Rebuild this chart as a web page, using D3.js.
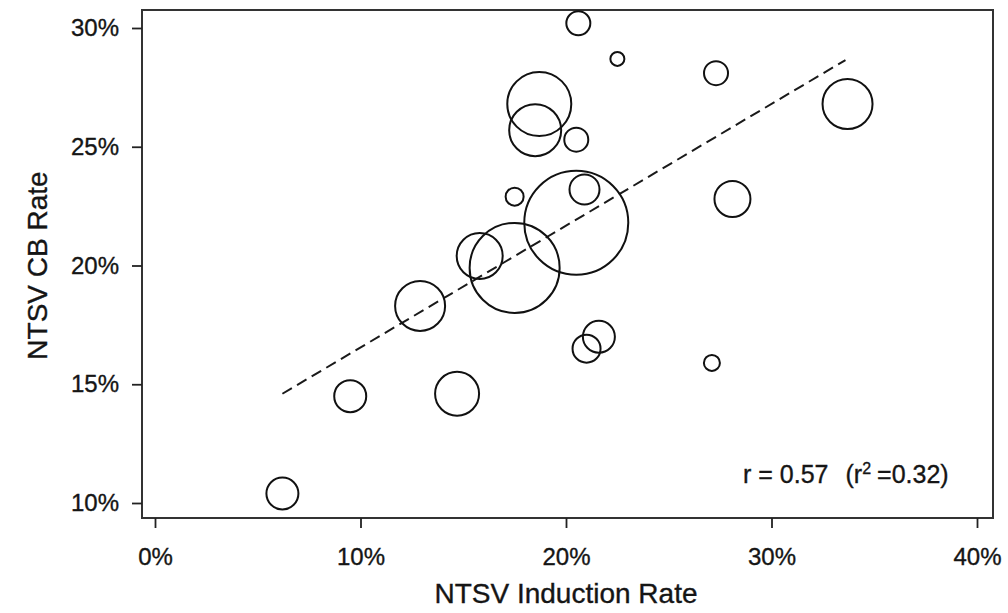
<!DOCTYPE html>
<html>
<head>
<meta charset="utf-8">
<script src="https://cdn.jsdelivr.net/npm/d3@7"></script>
<style>
  body { margin: 0; background: #fff; }
  text { font-family: "Liberation Sans", Arial, sans-serif; fill: #151515; stroke: #151515; stroke-width: 0.35px; }
</style>
</head>
<body>
<div id="chart"></div>
<script>
// values
const inductionRate = [6.2, 9.5, 14.7, 12.9, 15.8, 17.5, 20.5, 17.5, 20.9, 28.1, 33.7, 27.3, 20.6, 22.5, 18.7, 18.5, 20.5, 21.0, 21.6, 27.1]
const cbRate        = [10.4, 14.5, 14.6, 18.3, 20.4, 19.9, 21.8, 22.9, 23.2, 22.8, 26.8, 28.1, 30.2, 28.7, 26.8, 25.7, 25.3, 16.5, 17.0, 15.9]
const hospitalSize  = [256, 256, 484, 625, 529, 2025, 2704, 81, 225, 324, 625, 144, 144, 49, 1024, 676, 144, 196, 256, 64]

const xTicks = [0, 10, 20, 30, 40]
const yTicks = [10, 15, 20, 25, 30]

// fitted line end points
const trendX = [6.2, 33.6]
const trendY = [14.6, 28.65]

const statLabel = { r: '0.57', r2: '0.32' }

const width = 1008
const height = 613
const margin = { top: 28, right: 31, bottom: 110, left: 155 }

const svg = d3.select('#chart')
    .append('svg')
    .attr('width', width)
    .attr('height', height)

const x = d3.scaleLinear()
    .domain([0, 40])
    .range([margin.left, width - margin.right])

const y = d3.scaleLinear()
    .domain([10, 30])
    .range([height - margin.bottom, margin.top])

const r = d3.scaleSqrt()
    .domain([0, d3.max(hospitalSize)])
    .range([0, 52])

// plot frame, a little outside the tick range
const frame = { left: x(0) - 13, right: x(40) + 16, top: y(30) - 18, bottom: y(10) + 15 }

svg.append('rect')
    .attr('x', frame.left)
    .attr('y', frame.top)
    .attr('width', frame.right - frame.left)
    .attr('height', frame.bottom - frame.top)
    .attr('fill', 'none')
    .attr('stroke', '#333')
    .attr('stroke-width', 2)

// x axis
const xAxis = svg.append('g')
    .attr('transform', `translate(0, ${frame.bottom})`)
    .call(d3.axisBottom(x)
        .tickValues(xTicks)
        .tickSize(10)
        .tickPadding(20)
        .tickFormat(d => d + '%'))
xAxis.select('.domain').remove()
xAxis.selectAll('line').attr('stroke', '#222').attr('stroke-width', 1.8)
xAxis.selectAll('text')
    .attr('font-size', 24)
    .attr('font-family', null)
    .attr('fill', null)

// y axis
const yAxis = svg.append('g')
    .attr('transform', `translate(${frame.left}, 0)`)
    .call(d3.axisLeft(y)
        .tickValues(yTicks)
        .tickSize(10)
        .tickPadding(13)
        .tickFormat(d => d + '%'))
yAxis.select('.domain').remove()
yAxis.selectAll('line').attr('stroke', '#222').attr('stroke-width', 1.8)
yAxis.selectAll('text')
    .attr('font-size', 24)
    .attr('font-family', null)
    .attr('fill', null)

// axis titles
svg.append('text')
    .attr('x', (x(0) + x(40)) / 2)
    .attr('y', 603)
    .attr('text-anchor', 'middle')
    .attr('font-size', 28)
    .text('NTSV Induction Rate')

svg.append('text')
    .attr('transform', `translate(47, ${(y(10) + y(30)) / 2}) rotate(-90)`)
    .attr('text-anchor', 'middle')
    .attr('font-size', 28)
    .text('NTSV CB Rate')

// trend line
svg.append('path')
    .datum(d3.zip(trendX, trendY))
    .attr('fill', 'none')
    .attr('stroke', '#1a1a1a')
    .attr('stroke-width', 2)
    .attr('stroke-dasharray', '11,6')
    .attr('d', d3.line()
        .x(d => x(d[0]))
        .y(d => y(d[1])))

// bubbles
const points = inductionRate.map((v, i) => ({ x: v, y: cbRate[i], size: hospitalSize[i] }))

svg.selectAll('circle.bubble')
    .data(points)
    .enter()
    .append('circle')
    .attr('class', 'bubble')
    .attr('cx', d => x(d.x))
    .attr('cy', d => y(d.y))
    .attr('r', d => r(d.size))
    .attr('fill', 'none')
    .attr('stroke', '#111')
    .attr('stroke-width', 2)

// correlation note
const note = svg.append('text')
    .attr('x', 743)
    .attr('y', 483)
    .attr('font-size', 25)
note.append('tspan').text(`r = ${statLabel.r}`)
note.append('tspan').attr('dx', 17).text('(r')
note.append('tspan').attr('dy', -9).attr('font-size', 16).text('2')
note.append('tspan').attr('dy', 9).attr('dx', 6).text(`=${statLabel.r2})`)
</script>
</body>
</html>
